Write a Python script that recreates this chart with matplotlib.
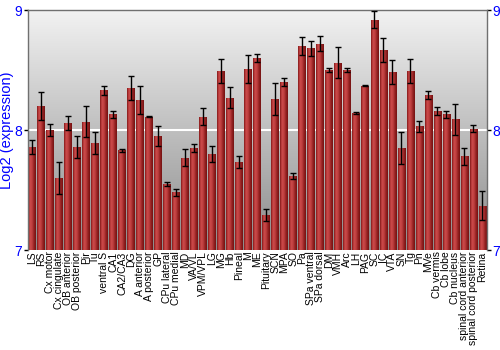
import numpy as np
import matplotlib
matplotlib.use("Agg")
import matplotlib.pyplot as plt
from matplotlib.colors import LinearSegmentedColormap

# Brain regions and log2 expression (mean, error)
regions = [
    "LS", "RS", "Cx motor", "Cx cingulate", "OB anterior", "OB posterior", "Pir", "Tu",
    "ventral S", "CA1", "CA2/CA3", "DG", "A anterior", "A posterior", "GP", "CPu lateral",
    "CPu medial", "MD", "VA/VL", "VPM/VPL", "LG", "MG", "Hb", "Pineal", "M", "ME",
    "Pituitary", "SCN", "MPA", "SO", "Pa", "SPa ventral", "SPa dorsal", "DM", "VMH", "Arc",
    "LH", "PAG", "SC", "IC", "VTA", "SN", "Tg", "Pn", "MVe", "Cb vermis", "Cb lobe",
    "Cb nucleus", "spinal cord anterior", "spinal cord posterior", "Retina",
]
expression = [
    7.86, 8.20, 8.00, 7.60, 8.06, 7.86, 8.07, 7.89,
    8.33, 8.13, 7.83, 8.35, 8.25, 8.11, 7.95, 7.55,
    7.48, 7.77, 7.85, 8.11, 7.80, 8.49, 8.27, 7.73, 8.51, 8.60,
    7.29, 8.26, 8.40, 7.62, 8.70, 8.68, 8.72, 8.50, 8.56, 8.50,
    8.14, 8.37, 8.92, 8.67, 8.48, 7.85, 8.49, 8.03, 8.29, 8.16, 8.13,
    8.09, 7.78, 8.01, 7.37,
]
errors = [
    0.06, 0.115, 0.05, 0.13, 0.06, 0.09, 0.13, 0.09,
    0.04, 0.03, 0.01, 0.10, 0.12, 0.005, 0.085, 0.015,
    0.03, 0.07, 0.035, 0.07, 0.07, 0.10, 0.09, 0.05, 0.115, 0.03,
    0.05, 0.135, 0.035, 0.025, 0.075, 0.06, 0.06, 0.02, 0.13, 0.02,
    0.01, 0.003, 0.07, 0.10, 0.10, 0.13, 0.10, 0.045, 0.035, 0.035, 0.03,
    0.13, 0.07, 0.03, 0.12,
]

blue = "#0000ff"
frame = "#707070"

fig = plt.figure(figsize=(5, 3.5), dpi=100)
ax = fig.add_axes([0.055, 0.2857, 0.919, 0.6857])

x = np.arange(len(regions))
ymin, ymax = 7, 9

# gray gradient background
bg = LinearSegmentedColormap.from_list("bg", ["#8c8c8c", "#f2f2f2"])
ax.imshow(np.linspace(0, 1, 256).reshape(-1, 1), cmap=bg, origin="lower",
          aspect="auto", extent=[0, 1, 0, 1], transform=ax.transAxes, zorder=0)
ax.axhline(8, color="white", linewidth=1.5, zorder=1)

bars = ax.bar(x, [v - ymin for v in expression], bottom=ymin, width=0.86,
              color="#a82828", edgecolor="none", zorder=2)

# shaded bar fill (light stripe left of centre, dark edges)
bar_cmap = LinearSegmentedColormap.from_list(
    "bar", ["#841818", "#cc4a4a", "#c04040", "#962222", "#741212"])
grad = np.linspace(0, 1, 64).reshape(1, -1)
for b in bars:
    bx, by = b.get_x(), b.get_y()
    im = ax.imshow(grad, cmap=bar_cmap, aspect="auto", zorder=2.5,
                   extent=[bx, bx + b.get_width(), by, by + b.get_height()])
    im.set_clip_path(b)

ax.errorbar(x, expression, yerr=errors, fmt="none", ecolor="black",
            elinewidth=1, capsize=2, capthick=1, zorder=3)

ax.set_xlim(-0.5, len(regions) - 0.5)
ax.set_ylim(ymin, ymax)
ax.set_yticks([7, 8, 9])
ax.set_xticks(x)
ax.set_xticklabels(regions, rotation=90, fontsize=7.5, family="Liberation Sans")
ax.tick_params(axis="x", length=0, pad=1)
ax.tick_params(axis="y", length=3, width=1, colors="black", labelcolor=blue,
               labelsize=10, right=True, labelright=True, pad=1)
for lbl in ax.get_yticklabels():
    lbl.set_family("Liberation Sans")
ax.set_ylabel("Log2 (expression)", color=blue, fontsize=10.5, family="Liberation Sans", labelpad=0)

for side in ["top", "left", "right"]:
    ax.spines[side].set_color(frame)
    ax.spines[side].set_linewidth(1)
ax.spines["bottom"].set_visible(False)

fig.savefig("out.png", dpi=100)
